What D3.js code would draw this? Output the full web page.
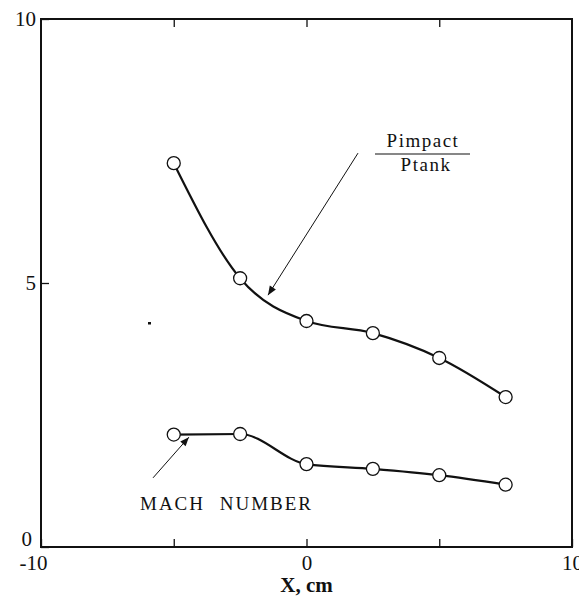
<!DOCTYPE html>
<html>
<head>
<meta charset="utf-8">
<script src="https://cdn.jsdelivr.net/npm/d3@7"></script>
<style>
  body { margin: 0; background: #fff; }
  svg text { font-family: "Liberation Serif", "DejaVu Serif", serif; }
  .domain { display: none; }
  .tick line { stroke: #111; stroke-width: 1.3; }
  .tick text { fill: #111; font-size: 21px; }
</style>
</head>
<body>
<svg width="579" height="596"></svg>
<script>
// x positions (cm)
const xs = [-5, -2.5, 0, 2.5, 5, 7.5];
// Pimpact / Ptank
const pressureRatio = [7.27, 5.09, 4.28, 4.05, 3.58, 2.84];
// Mach number
const machNumber = [2.13, 2.14, 1.57, 1.48, 1.36, 1.18];

const xTickLabels = ["-10", "0", "10"];
const yTickLabels = ["0", "5", "10"];

const svg = d3.select("svg");
const width = 579;
const height = 596;
const margin = { top: 19, right: 7, bottom: 49, left: 41 };

const x = d3.scaleLinear().domain([-10, 10]).range([margin.left, width - margin.right]);
const y = d3.scaleLinear().domain([0, 10]).range([height - margin.bottom, margin.top]);

// frame
svg.append("rect")
  .attr("x", x(-10))
  .attr("y", y(10))
  .attr("width", x(10) - x(-10))
  .attr("height", y(0) - y(10))
  .attr("fill", "none")
  .attr("stroke", "#111")
  .attr("stroke-width", 2);

// bottom axis, ticks point inward
const xAxis = svg.append("g")
  .attr("transform", `translate(0,${y(0)})`)
  .call(d3.axisBottom(x)
    .tickValues([-10, -5, 0, 5, 10])
    .tickSizeInner(-8)
    .tickSizeOuter(0)
    .tickPadding(8)
    .tickFormat((d) => (xTickLabels.includes(String(d)) ? String(d) : "")));
xAxis.selectAll(".tick text")
  .filter((d) => d === -10)
  .attr("dx", -8);

// top ticks
svg.append("g")
  .attr("transform", `translate(0,${y(10)})`)
  .call(d3.axisTop(x).tickValues([-5, 0, 5]).tickSizeInner(-8).tickSizeOuter(0).tickFormat(""));

// left axis
const yAxis = svg.append("g")
  .attr("transform", `translate(${x(-10)},0)`)
  .call(d3.axisLeft(y)
    .tickValues([0, 5, 10])
    .tickSizeInner(-8)
    .tickSizeOuter(0)
    .tickPadding(5)
    .tickFormat((d) => (yTickLabels.includes(String(d)) ? String(d) : "")));
yAxis.selectAll(".tick text")
  .filter((d) => d === 0)
  .attr("dy", "-0.05em")
  .attr("dx", -4);

// x axis title
svg.append("text")
  .attr("x", x(0))
  .attr("y", 592)
  .attr("text-anchor", "middle")
  .attr("font-size", 21)
  .attr("font-weight", "bold")
  .attr("fill", "#111")
  .text("X, cm");

// curves
const line = d3.line()
  .x((d) => x(d[0]))
  .y((d) => y(d[1]))
  .curve(d3.curveMonotoneX);

const series = [pressureRatio, machNumber];
series.forEach((vals) => {
  const pts = xs.map((xv, i) => [xv, vals[i]]);
  svg.append("path")
    .datum(pts)
    .attr("d", line)
    .attr("fill", "none")
    .attr("stroke", "#111")
    .attr("stroke-width", 2.2);

  svg.append("g")
    .selectAll("circle")
    .data(pts)
    .enter()
    .append("circle")
    .attr("cx", (d) => x(d[0]))
    .attr("cy", (d) => y(d[1]))
    .attr("r", 6.5)
    .attr("fill", "#fff")
    .attr("stroke", "#111")
    .attr("stroke-width", 1.3);
});

// arrow heads
svg.append("defs").append("marker")
  .attr("id", "arrow")
  .attr("viewBox", "0 0 10 10")
  .attr("refX", 10)
  .attr("refY", 5)
  .attr("markerWidth", 11)
  .attr("markerHeight", 9)
  .attr("markerUnits", "userSpaceOnUse")
  .attr("orient", "auto")
  .append("path")
  .attr("d", "M0,1 L10,5 L0,9 z")
  .attr("fill", "#111");

// annotations (data units)
const arrows = [
  { from: [1.94, 7.46], to: [-1.45, 4.77] },
  { from: [-5.78, 1.31], to: [-4.43, 2.08] },
];
svg.append("g")
  .selectAll("line")
  .data(arrows)
  .enter()
  .append("line")
  .attr("x1", (d) => x(d.from[0]))
  .attr("y1", (d) => y(d.from[1]))
  .attr("x2", (d) => x(d.to[0]))
  .attr("y2", (d) => y(d.to[1]))
  .attr("stroke", "#111")
  .attr("stroke-width", 1)
  .attr("marker-end", "url(#arrow)");

// Pimpact / Ptank label
const lab = svg.append("g").attr("fill", "#111").attr("font-size", 19).attr("letter-spacing", 1.5);
lab.append("text").attr("x", 423).attr("y", 147).attr("text-anchor", "middle").text("Pimpact");
lab.append("line")
  .attr("x1", 375).attr("x2", 470)
  .attr("y1", 154).attr("y2", 154)
  .attr("stroke", "#111").attr("stroke-width", 1.2);
lab.append("text").attr("x", 426).attr("y", 171).attr("text-anchor", "middle").text("Ptank");

// Mach label
svg.append("text")
  .attr("x", 140)
  .attr("y", 510)
  .attr("font-size", 19)
  .attr("letter-spacing", 2)
  .attr("word-spacing", 8)
  .attr("fill", "#111")
  .text("MACH NUMBER");

// speck
svg.append("rect").attr("x", 148).attr("y", 322).attr("width", 3).attr("height", 2.5).attr("fill", "#111");
</script>
</body>
</html>
